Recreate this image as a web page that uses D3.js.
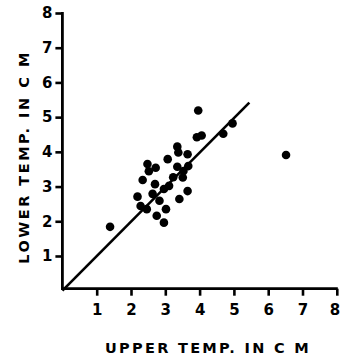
<!DOCTYPE html>
<html><head><meta charset="utf-8">
<script src="https://cdn.jsdelivr.net/npm/d3@7"></script>
<style>body{margin:0;background:#fff}svg{display:block}</style>
</head><body><svg id="c" width="340" height="358"></svg>
<script>
const upperTemp = [3.96,3.92,4.06,4.69,4.96,3.35,3.38,3.65,3.07,2.48,2.72,2.52,3.35,3.67,3.53,2.34,3.23,3.51,2.70,3.11,2.96,2.19,2.63,2.83,2.28,2.46,3.41,3.65,3.02,2.75,2.96,1.39,6.52];
const lowerTemp = [5.19,4.42,4.47,4.52,4.82,4.15,3.98,3.93,3.79,3.65,3.54,3.44,3.57,3.59,3.45,3.19,3.27,3.26,3.07,3.02,2.93,2.71,2.79,2.59,2.44,2.35,2.64,2.87,2.35,2.16,1.96,1.84,3.91];
const tickValues = [1,2,3,4,5,6,7,8];
const fitLine = [[0,0],[5.45,5.42]];

const svg = d3.select("#c");
const x = d3.scaleLinear().domain([0,8]).range([62.4,336.8]);
const y = d3.scaleLinear().domain([0,8]).range([290.7,13]);
const font = "'DejaVu Sans', sans-serif";

// axes
const xAxis = d3.axisBottom(x).tickValues(tickValues).tickSize(7).tickPadding(9).tickFormat(d3.format("d"));
const yAxis = d3.axisLeft(y).tickValues(tickValues).tickSize(7).tickPadding(3).tickFormat(d3.format("d"));
const gx = svg.append("g").attr("transform",`translate(0,${y(0)-2})`).call(xAxis);
const gy = svg.append("g").attr("transform",`translate(${x(0)},0)`).call(yAxis);
[gx,gy].forEach(g=>{
  g.select(".domain").remove();
  g.selectAll(".tick line").attr("stroke","#000").attr("stroke-width",2.6);
  g.selectAll(".tick text").attr("fill","#000").style("font-family",font).style("font-weight","bold").style("font-size","15px");
});
gx.selectAll(".tick text").filter(d=>d===8).attr("text-anchor","end").attr("dx",3);
svg.append("path").attr("d",`M${x(0)},${y(8)-1}V${y(0)-2}H${x(8)+1}`).attr("fill","none").attr("stroke","#000").attr("stroke-width",2.8);

// fit line
svg.append("path").datum(fitLine).attr("d",d3.line().x(d=>x(d[0])).y(d=>y(d[1])))
  .attr("stroke","#000").attr("stroke-width",2.6).attr("fill","none");

// points
svg.append("g").selectAll("circle").data(upperTemp.map((u,i)=>[u,lowerTemp[i]])).join("circle")
  .attr("cx",d=>x(d[0])).attr("cy",d=>y(d[1])).attr("r",4.3).attr("fill","#000");

// titles
svg.append("text").attr("x",208).attr("y",353).attr("text-anchor","middle")
  .style("font-family",font).style("font-weight","bold").style("font-size","14.5px").style("letter-spacing","2.3px")
  .text("UPPER TEMP. IN C M");
svg.append("text").attr("transform","translate(29,157) rotate(-90)").attr("text-anchor","middle")
  .style("font-family",font).style("font-weight","bold").style("font-size","14.5px").style("letter-spacing","2.5px")
  .text("LOWER TEMP. IN C M");
</script></body></html>
